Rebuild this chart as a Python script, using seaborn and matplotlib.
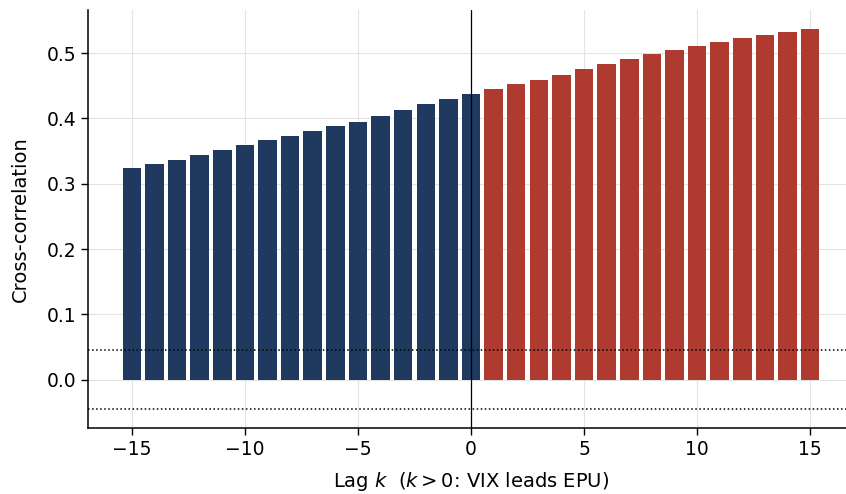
import numpy as np
import pandas as pd
import matplotlib
matplotlib.use("Agg")
import matplotlib.pyplot as plt
import seaborn as sns

# cross-correlation of VIX and EPU by lag
lags = list(range(-15, 16))
ccf = [0.324, 0.330, 0.336, 0.344, 0.351, 0.359, 0.367, 0.373, 0.380, 0.388,
       0.394, 0.403, 0.413, 0.422, 0.429, 0.437,
       0.445, 0.453, 0.459, 0.466, 0.476, 0.483, 0.491, 0.499, 0.505, 0.511,
       0.517, 0.523, 0.528, 0.532, 0.537]
conf_band = 0.045

df = pd.DataFrame({"lag": lags, "ccf": ccf})
df["side"] = np.where(df["lag"] <= 0, "epu", "vix")

sns.set_theme(style="white")
plt.rcParams["font.family"] = ["DejaVu Sans"]
plt.rcParams["text.color"] = "black"
plt.rcParams["axes.labelcolor"] = "black"

fig = plt.figure(figsize=(8.46, 4.94), dpi=100)
ax = fig.add_axes([88 / 846, 66 / 494, 766 / 846, 418 / 494])

sns.barplot(data=df, x="lag", y="ccf", hue="side", native_scale=True, dodge=False,
            palette={"epu": "#1f3a5e", "vix": "#af3a2f"}, width=0.82,
            saturation=1, legend=False, linewidth=0, ax=ax)

ax.axhline(conf_band, color="black", linestyle=":", linewidth=1.1)
ax.axhline(-conf_band, color="black", linestyle=":", linewidth=1.1)
ax.axvline(0, color="black", linewidth=0.9)

ax.set_xticks([-15, -10, -5, 0, 5, 10, 15])
ax.set_xticklabels(["\u221215", "\u221210", "\u22125", "0", "5", "10", "15"])
ax.set_yticks([0.0, 0.1, 0.2, 0.3, 0.4, 0.5])
ax.set_xlim(-16.94, 16.94)
ax.set_ylim(-0.074, 0.566)

ax.grid(True, color="#e3e3e3", linewidth=0.8)
ax.set_axisbelow(True)
sns.despine(ax=ax)
for s in ["left", "bottom"]:
    ax.spines[s].set_color("black")
    ax.spines[s].set_linewidth(1.1)
ax.tick_params(axis="both", direction="out", length=5, width=1, colors="black",
               labelsize=13.5, bottom=True, left=True)

ax.set_xlabel(r"Lag $k$  ($k > 0$: VIX leads EPU)", fontsize=14, labelpad=8)
ax.set_ylabel("Cross-correlation", fontsize=14, labelpad=12)

fig.savefig("out.png", dpi=100)
